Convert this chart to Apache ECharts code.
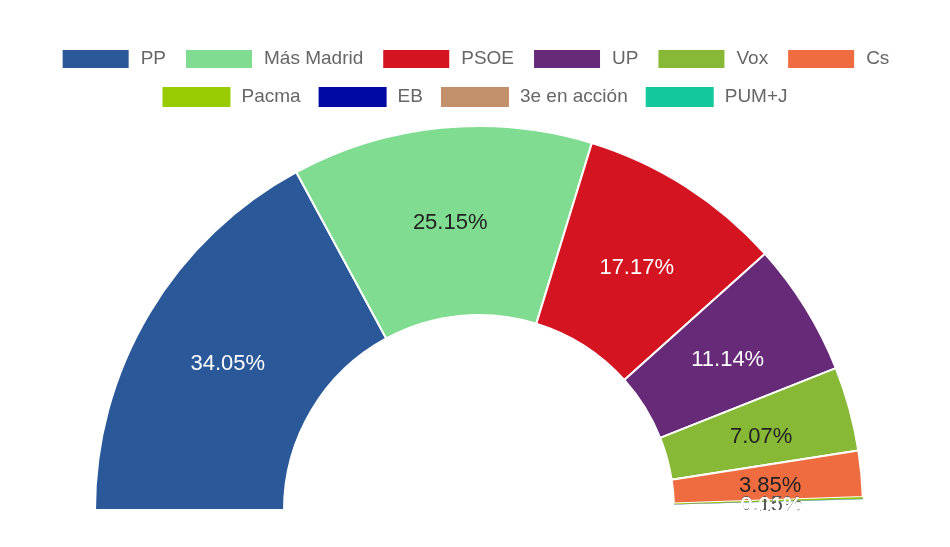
<!DOCTYPE html>
<html>
<head>
<meta charset="utf-8">
<script src="https://cdn.jsdelivr.net/npm/echarts@6/dist/echarts.min.js"></script>
<style>
  html, body { margin: 0; padding: 0; background: #fff; }
  #main { width: 950px; height: 547px; }
</style>
</head>
<body>
<div id="main"></div>
<script>
// party names, colours and vote share (%)
const parties = ['PP', 'Más Madrid', 'PSOE', 'UP', 'Vox', 'Cs', 'Pacma', 'EB', '3e en acción', 'PUM+J'];
const colors = ['#2a5898', '#80dc91', '#d41521', '#672a78', '#87b937', '#ef6c40', '#99cc00', '#0009a3', '#c2906b', '#12c89c'];
const values = [34.05, 25.15, 17.17, 11.14, 7.07, 3.85, 0.15, 0.01, 0.01, 0.01];
const labelColors = ['#fff', '#222', '#fff', '#fff', '#222', '#222', '#555', '#fff', '#fff', '#fff'];
const otherShare = 0.89; // rest of the votes, not drawn

const myChart = echarts.init(document.getElementById('main'));

let total = otherShare;
values.forEach(function (v) { total += v; });

let pieData = parties.map(function (name, i) {
    return {
        name: name,
        value: values[i],
        itemStyle: { color: colors[i], borderWidth: values[i] < 1 ? 0 : 2 },
        label: { color: labelColors[i] }
    };
});
// transparent filler for the rest, plus the invisible lower half
pieData.push({
    name: 'otros', value: otherShare,
    itemStyle: { color: 'rgba(0,0,0,0)', borderWidth: 0 },
    label: { show: false }, emphasis: { disabled: true }
});
pieData.push({
    name: 'hidden', value: total,
    itemStyle: { color: 'rgba(0,0,0,0)', borderWidth: 0 },
    label: { show: false }, emphasis: { disabled: true }
});

const legendText = { color: '#666', fontSize: 19, fontFamily: 'Liberation Sans, Arial, sans-serif', padding: [0, 0, 0, 6] };

myChart.setOption({
    animation: false,
    legend: [
        {
            data: parties.slice(0, 6),
            left: 'center',
            top: 43,
            itemWidth: 68,
            itemHeight: 20,
            itemGap: 18,
            icon: 'rect',
            selectedMode: false,
            textStyle: legendText
        },
        {
            data: parties.slice(6),
            left: 'center',
            top: 82,
            itemWidth: 68,
            itemHeight: 20,
            itemGap: 18,
            icon: 'rect',
            selectedMode: false,
            textStyle: legendText
        }
    ],
    series: [
        {
            type: 'pie',
            center: [479, 510],
            radius: [195, 384],
            startAngle: 180,
            clockwise: true,
            avoidLabelOverlap: false,
            minShowLabelAngle: 0,
            labelLayout: { hideOverlap: false },
            itemStyle: { borderColor: '#fff', borderWidth: 2 },
            label: {
                show: true,
                position: 'inside',
                fontSize: 22,
                offset: [0, 4],
                fontFamily: 'Liberation Sans, Arial, sans-serif',
                formatter: function (p) {
                    return p.value.toFixed(2) + '%';
                }
            },
            labelLine: { show: false },
            data: pieData
        }
    ]
});
</script>
</body>
</html>
